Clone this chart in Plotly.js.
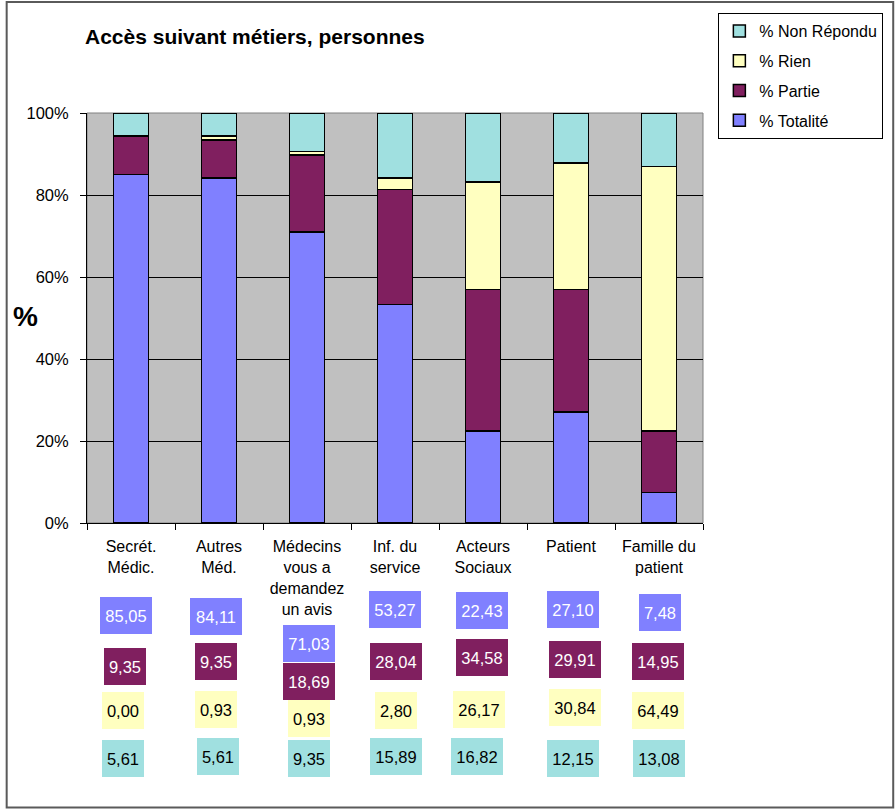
<!DOCTYPE html>
<html>
<head>
<meta charset="utf-8">
<script src="https://cdn.plot.ly/plotly-3.0.1.min.js"></script>
<style>
  html, body { margin: 0; padding: 0; background: #fff; }
  #chart { width: 896px; height: 809px; }
</style>
</head>
<body>
<div id="chart"></div>
<script>
// Catégories (métiers)
const categories = [
  'Secrét.<br>Médic.',
  'Autres<br>Méd.',
  'Médecins<br>vous a<br>demandez<br>un avis',
  'Inf. du<br>service',
  'Acteurs<br>Sociaux',
  'Patient',
  'Famille du<br>patient'
];

// Pourcentages par type d'accès
const totalite   = [85.05, 84.11, 71.03, 53.27, 22.43, 27.10, 7.48];
const partie     = [9.35, 9.35, 18.69, 28.04, 34.58, 29.91, 14.95];
const rien       = [0.00, 0.93, 0.93, 2.80, 26.17, 30.84, 64.49];
const nonRepondu = [5.61, 5.61, 9.35, 15.89, 16.82, 12.15, 13.08];

const seriesNames = ['% Totalité', '% Partie', '% Rien', '% Non Répondu'];
const yTickVals = [0, 20, 40, 60, 80, 100];
const yTickText = ['0%', '20%', '40%', '60%', '80%', '100%'];

// Mise en page (pixels)
const W = 896, H = 809;
const M = { l: 87, r: 184, t: 113, b: 286 };
const PW = W - M.l - M.r, PH = H - M.t - M.b;
const pxX = px => (px - M.l) / PW;
const pxY = py => (H - M.b - py) / PH;

const FONT = 'Liberation Sans, Arial, sans-serif';
const colors = {
  tot: '#8080FF',
  par: '#801F5F',
  rien: '#FFFFC0',
  nr: '#A0E0E0'
};

function barTrace(name, y, color, rank) {
  return {
    type: 'bar',
    name: name,
    legendgroup: name,
    legendrank: rank,
    x: categories,
    y: y,
    marker: { color: color, line: { color: '#000', width: 1.5 } },
    hoverinfo: 'x+y+name'
  };
}

// empilement de bas en haut ; la légende liste du haut vers le bas
const data = [
  barTrace(seriesNames[0], totalite, colors.tot, 4),
  barTrace(seriesNames[1], partie, colors.par, 3),
  barTrace(seriesNames[2], rien, colors.rien, 2),
  barTrace(seriesNames[3], nonRepondu, colors.nr, 1)
];

// Tableau des valeurs sous le graphique : centre vertical (px) et décalage horizontal par case
const tableRows = [
  { values: totalite,   bg: colors.tot,  fg: '#fff', cy: [615, 616, 643, 609, 610, 609, 612], dx: [-5, -3, 2, 0, -1, 2, 1] },
  { values: partie,     bg: colors.par,  fg: '#fff', cy: [666, 661, 681, 661, 657, 659, 661], dx: [-6, -3, 2, 1, -1, 4, -1] },
  { values: rien,       bg: colors.rien, fg: '#000', cy: [710, 709, 718, 710, 709, 707, 710], dx: [-8, -3, 2, 1, -4, 4, -1] },
  { values: nonRepondu, bg: colors.nr,   fg: '#000', cy: [758, 756, 758, 756, 756, 758, 758], dx: [-8, -1, 2, 1, -6, 2, 0] }
];

const fmt = v => v.toFixed(2).replace('.', ',');

const annotations = [];
tableRows.forEach(row => {
  row.values.forEach((v, i) => {
    const txt = fmt(v);
    annotations.push({
      xref: 'x', yref: 'paper',
      x: categories[i], y: pxY(row.cy[i]),
      xshift: row.dx[i],
      xanchor: 'center', yanchor: 'middle',
      text: txt,
      showarrow: false,
      bgcolor: row.bg,
      borderpad: 0,
      borderwidth: 0,
      width: txt.length >= 5 ? 52 : 42,
      height: 37,
      font: { family: FONT, size: 16.5, color: row.fg }
    });
  });
});

// Titre de l'axe vertical
annotations.push({
  xref: 'paper', yref: 'paper',
  x: pxX(25), y: pxY(316),
  xanchor: 'center', yanchor: 'middle',
  text: '<b>%</b>', showarrow: false,
  font: { family: FONT, size: 28, color: '#000' }
});

const shapes = [
  // cadre de la zone de tracé
  {
    type: 'rect', xref: 'paper', yref: 'paper', layer: 'below',
    x0: 0, x1: 1, y0: 0, y1: 1,
    line: { color: '#808080', width: 1 }
  },
  // cadre extérieur
  {
    type: 'rect', xref: 'paper', yref: 'paper',
    x0: pxX(5.5), x1: pxX(905), y0: pxY(807.5), y1: pxY(2),
    line: { color: '#5a5a5a', width: 2 },
    fillcolor: 'rgba(0,0,0,0)'
  }
];

const layout = {
  width: W, height: H,
  margin: M,
  paper_bgcolor: '#fff',
  plot_bgcolor: '#C0C0C0',
  barmode: 'stack',
  bargap: 0.6,
  font: { family: FONT, size: 16, color: '#000' },
  title: {
    text: '<b>Accès suivant métiers, personnes</b>',
    xref: 'container', yref: 'container',
    x: 85 / W, xanchor: 'left',
    y: 1 - 37 / H, yanchor: 'middle',
    font: { family: FONT, size: 21, color: '#000' }
  },
  xaxis: {
    type: 'category',
    showline: true, linecolor: '#000', linewidth: 1,
    ticks: 'outside', tickson: 'boundaries', ticklen: 6, tickcolor: '#000',
    ticklabelstandoff: 9,
    showgrid: false,
    tickfont: { family: FONT, size: 16, color: '#000' },
    fixedrange: true
  },
  yaxis: {
    range: [0, 100],
    tickmode: 'array',
    tickvals: yTickVals,
    ticktext: yTickText,
    showline: true, linecolor: '#000', linewidth: 1,
    ticks: 'outside', ticklen: 6, tickcolor: '#000',
    ticklabelstandoff: 8,
    showgrid: true, gridcolor: '#000', gridwidth: 1,
    zeroline: false,
    tickfont: { family: FONT, size: 16.5, color: '#000' },
    fixedrange: true
  },
  showlegend: true,
  legend: {
    traceorder: 'grouped',
    tracegroupgap: 6,
    x: pxX(895), xanchor: 'right',
    y: pxY(13), yanchor: 'top',
    bgcolor: '#fff',
    bordercolor: '#000', borderwidth: 1,
    font: { family: FONT, size: 16, color: '#000' }
  },
  annotations: annotations,
  shapes: shapes
};

Plotly.newPlot('chart', data, layout, { displayModeBar: false, staticPlot: true });
</script>
</body>
</html>
